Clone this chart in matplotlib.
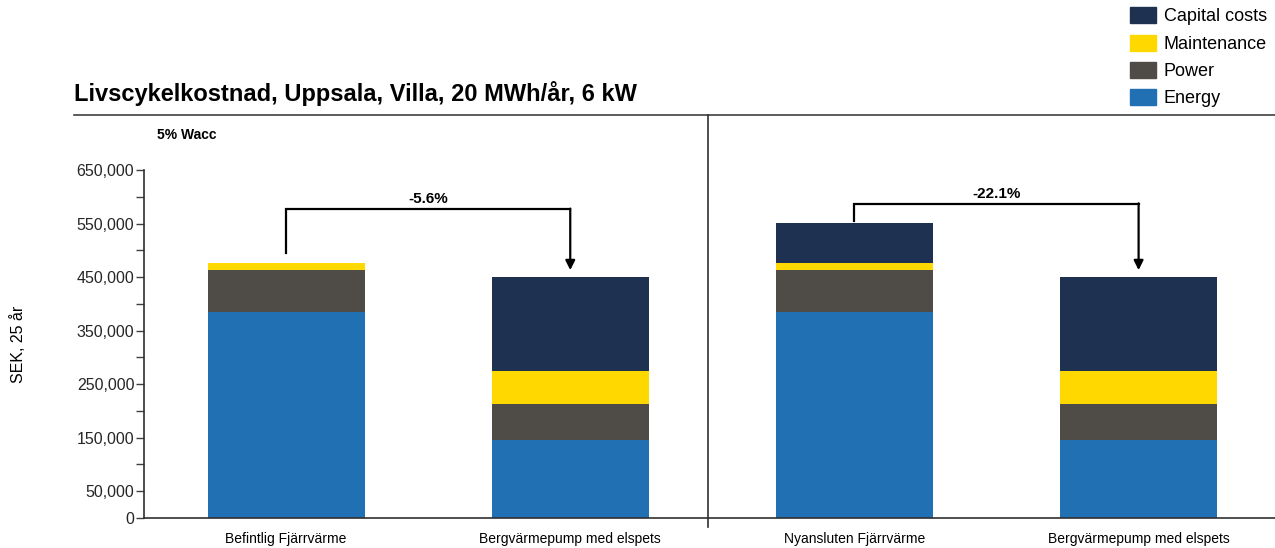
import numpy as np
import matplotlib.pyplot as plt
from matplotlib.patches import Patch
from matplotlib.lines import Line2D

plt.rcParams['font.family'] = ['Liberation Sans', 'DejaVu Sans']

## data (SEK, 25 years)
categories = ['Befintlig Fjärrvärme', 'Bergvärmepump med elspets',
              'Nyansluten Fjärrvärme', 'Bergvärmepump med elspets']
energy = [384000, 146000, 384000, 146000]
power = [79000, 66000, 79000, 66000]
maintenance = [14000, 63000, 14000, 63000]
capital = [0, 175000, 74000, 175000]
changes = ['-5.6%', '-22.1%']        ## label text for the two brackets
pairs = [(0, 1), (2, 3)]

series = [('Energy', energy, '#2170B4'),
          ('Power', power, '#4F4B47'),
          ('Maintenance', maintenance, '#FFD800'),
          ('Capital costs', capital, '#1F3150')]

W, H = 1275, 548
fig = plt.figure(figsize=(W/100, H/100), dpi=100)
ax = fig.add_axes([144/W, (H-518)/H, (W-144)/W, (518-170)/H])

x = np.arange(len(categories))
bottom = np.zeros(len(categories))
for name, vals, col in series:
    ax.bar(x, vals, 0.553, bottom=bottom, color=col, linewidth=0, label=name)
    bottom += np.array(vals)
totals = bottom

ax.set_xlim(-0.5, 3.48)
ax.set_ylim(0, 650000)
yt = np.arange(0, 650001, 50000)
ax.set_yticks(yt)
ax.set_yticklabels([f'{v:,}' if (v == 0 or (v // 50000) % 2 == 1) else '' for v in yt],
                   fontsize=11.5, color='#262626')
ax.tick_params(axis='y', length=6, width=1, color='#404040', pad=1)
ax.set_xticks(x)
ax.set_xticklabels(categories, fontsize=10, color='#000000')
ax.tick_params(axis='x', length=0, pad=10)
for s in ['top', 'right']:
    ax.spines[s].set_visible(False)
for s in ['left', 'bottom']:
    ax.spines[s].set_color('#303030')
    ax.spines[s].set_linewidth(1.2)
ax.set_ylabel('SEK, 25 år', fontsize=11.5)
ax.yaxis.set_label_coords(-0.104, 0.5)

## change brackets between bar pairs
tops = [100000, 36000]
legs = [18000, 3000]
for (a, b), lab, t, lg in zip(pairs, changes, tops, legs):
    ytop = totals[a] + t
    ax.plot([a, a, b], [totals[a] + lg, ytop, ytop], color='black', lw=1.6,
            clip_on=False, solid_joinstyle='miter')
    ax.annotate('', xy=(b, totals[b] + 13000), xytext=(b, ytop + 800),
                arrowprops=dict(arrowstyle='-|>', color='black', lw=1.6,
                                mutation_scale=14, shrinkA=0, shrinkB=0))
    ax.text((a + b) / 2, ytop + 6000, lab, ha='center', va='bottom',
            fontsize=11, fontweight='bold')

## frame lines: top rule and group divider
fig.add_artist(Line2D([74/W, 1], [(H-115)/H]*2, color='#404040', lw=1.2))
fig.add_artist(Line2D([708/W]*2, [(H-115)/H, (H-527)/H], color='#303030', lw=1.2))

fig.text(74/W, (H-93)/H, 'Livscykelkostnad, Uppsala, Villa, 20 MWh/år, 6 kW',
         fontsize=17, fontweight='bold', va='center', ha='left')
fig.text(157/W, (H-135)/H, '5% Wacc', fontsize=10, fontweight='bold',
         va='center', ha='left')

handles = [Patch(color=c, label=n) for n, _, c in series[::-1]]
fig.legend(handles=handles, loc='upper left', bbox_to_anchor=(1123/W, 1.0),
           frameon=False, fontsize=13, handlelength=1.4, handleheight=1.0,
           handletextpad=0.45, labelspacing=0.5, borderaxespad=0.0)

fig.savefig('out.png', dpi=100)
